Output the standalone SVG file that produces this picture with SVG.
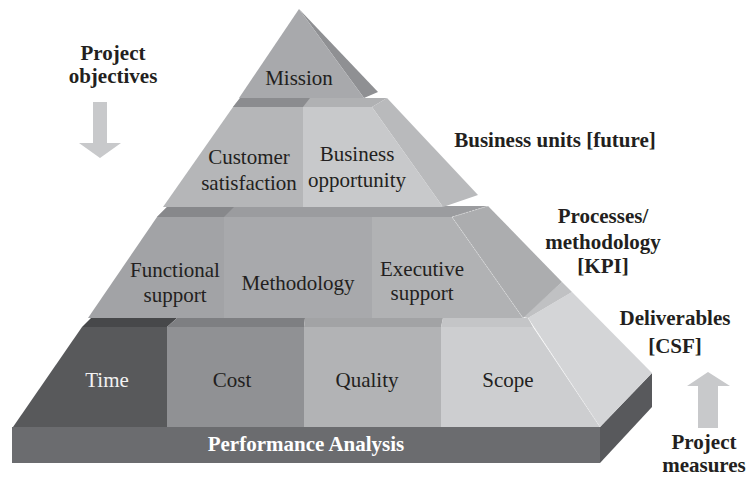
<svg xmlns="http://www.w3.org/2000/svg" width="753" height="477" viewBox="0 0 753 477">
<style>
.lbl{font-family:"Liberation Serif","Times New Roman",serif;font-size:21px;fill:#231f20;text-anchor:middle}
.bold{font-family:"Liberation Serif","Times New Roman",serif;font-size:21px;font-weight:bold;fill:#231f20;text-anchor:middle}
.arrow{fill:#c8c9cb}
.edge{fill:none;stroke:#ffffff;stroke-width:0.6;stroke-opacity:0.6;stroke-dasharray:2 1}
</style>
<rect width="753" height="477" fill="#ffffff"/>
<g id="base">
<rect x="12" y="427" width="588" height="36" fill="#6b6c6f"/>
<polygon points="600,427 652,373 652,407 600,463" fill="#58595c"/>
<text class="bold" x="306" y="451" style="fill:#ffffff">Performance Analysis</text>
</g>
<g id="tier-deliverables">
<polygon points="528,318 572,292 652,373 600,427" fill="#d4d5d7"/>
<polygon points="523,317 562,282 572,292 528,318" fill="#c0c1c3"/>
<polygon points="91,318 177,318 167,327 82,327" fill="#47484a"/>
<polygon points="177,318 305,318 304,327 167,327" fill="#7e7f82"/>
<polygon points="305,318 443,318 441,327 304,327" fill="#a2a3a5"/>
<polygon points="443,318 528,318 533,327 441,327" fill="#c4c5c7"/>
<g id="time"><polygon points="82,327 167,327 167,427 13,427" fill="#58595b"/><text class="lbl" x="107" y="387" style="fill:#f2f2f2">Time</text></g>
<g id="cost"><polygon points="167,327 304,327 304,427 167,427" fill="#909194"/><text class="lbl" x="232" y="387">Cost</text></g>
<g id="quality"><polygon points="304,327 441,327 441,427 304,427" fill="#b2b3b5"/><text class="lbl" x="367" y="387">Quality</text></g>
<g id="scope"><polygon points="441,327 533,327 600,427 441,427" fill="#cdced0"/><text class="lbl" x="508" y="387">Scope</text></g>
<line class="edge" x1="528" y1="318" x2="600" y2="427"/>
</g>
<g id="tier-processes">
<polygon points="168,206 488,206 452,217 157,217" fill="#9b9c9f"/>
<polygon points="168,206 235,206 224,217 157,217" fill="#87888b"/>
<polygon points="452,217 488,206 562,282 523,318" fill="#acadaf"/>
<g id="functional-support"><polygon points="157,217 224,217 224,318 88,318" fill="#a2a3a6"/><text class="lbl" x="175" y="277">Functional</text><text class="lbl" x="175" y="302">support</text></g>
<g id="methodology"><polygon points="224,217 372,217 372,318 224,318" fill="#a8a9ac"/><text class="lbl" x="298" y="290">Methodology</text></g>
<g id="executive-support"><polygon points="372,217 452,217 523,318 372,318" fill="#b1b2b4"/><text class="lbl" x="422" y="276">Executive</text><text class="lbl" x="422" y="300">support</text></g>
<line class="edge" x1="452" y1="217" x2="523" y2="318"/>
<line class="edge" x1="452" y1="217" x2="488" y2="206"/>
</g>
<g id="tier-business">
<polygon points="240,98 387,98 372,107 233,107" fill="#b0b1b3"/>
<polygon points="240,98 310,98 303,107 233,107" fill="#8b8c8f"/>
<polygon points="372,107 387,98 478,195 443,207" fill="#b9babc"/>
<g id="customer-satisfaction"><polygon points="233,107 303,107 303,207 163,207" fill="#b5b6b8"/><text class="lbl" x="249" y="164">Customer</text><text class="lbl" x="249" y="190">satisfaction</text></g>
<g id="business-opportunity"><polygon points="303,107 372,107 443,207 303,207" fill="#c8c9cb"/><text class="lbl" x="357" y="161">Business</text><text class="lbl" x="357" y="187">opportunity</text></g>
</g>
<g id="mission">
<polygon points="299,9 378,92 364,98" fill="#8f9093"/>
<polygon points="299,9 364,98 239,98" fill="#a8a9ac"/>
<text class="lbl" x="299" y="85">Mission</text>
</g>
<g id="connectors">
<polygon class="arrow" points="93,102 107,102 107,143 121,143 100,158 79,143 93,143"/>
<polygon class="arrow" points="708,372 730,386 718,386 718,428 698,428 698,386 687,386"/>
</g>
<g id="side-labels">
<text class="bold" x="113" y="60">Project</text>
<text class="bold" x="113" y="83">objectives</text>
<text class="bold" x="555" y="147">Business units [future]</text>
<text class="bold" x="603" y="223">Processes/</text>
<text class="bold" x="603" y="249">methodology</text>
<text class="bold" x="603" y="273">[KPI]</text>
<text class="bold" x="675" y="325">Deliverables</text>
<text class="bold" x="675" y="353">[CSF]</text>
<text class="bold" x="704" y="449">Project</text>
<text class="bold" x="704" y="472">measures</text>
</g>
</svg>
